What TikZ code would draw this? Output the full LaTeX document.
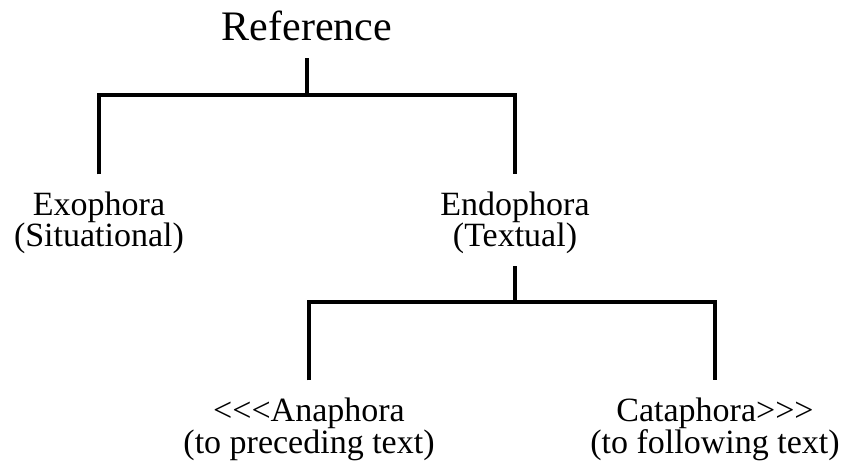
\documentclass[tikz,border=0pt]{standalone}
\usepackage{fontspec}
\setmainfont{Liberation Serif}
\usepackage{tikz}
\tikzset{branch/.style={line width=3.3pt}}
\tikzset{lbl/.style={align=center, inner sep=0pt, outer ysep=17pt, font=\fontsize{34}{32}\selectfont}}

\begin{document}
\begin{tikzpicture}[x=1pt, y=-1pt]
                        \useasboundingbox (0,0) rectangle (844,468);
                        \node[lbl, anchor=base, font=\fontsize{42}{48}\selectfont] (ref) at (307,41) {Reference};
                        \node[lbl, anchor=base] (exo) at (99,247) {Exophora\\(Situational)};
                        \node[lbl, anchor=base] (endo) at (515,247) {Endophora\\(Textual)};
                        \node[lbl, anchor=base] (ana) at (309,453) {<{}<{}<Anaphora\\(to preceding text)};
                        \node[lbl, anchor=base] (cata) at (715,453) {Cataphora>{}>{}>\\(to following text)};
                        \coordinate (bar1) at (307,95);
                        \coordinate (bar2) at (515,302);

                        % Reference to exophora and endophora
                        \draw[branch] (ref.south) -- (bar1);
                        \draw[branch] (exo.north) |- (bar1) -| (endo.north);
                        % Endophora to anaphora and cataphora
                        \draw[branch] ([yshift=5pt]endo.south) -- (bar2);
                        \draw[branch] (ana.north) |- (bar2) -| (cata.north);
                    \end{tikzpicture}
\end{document}
